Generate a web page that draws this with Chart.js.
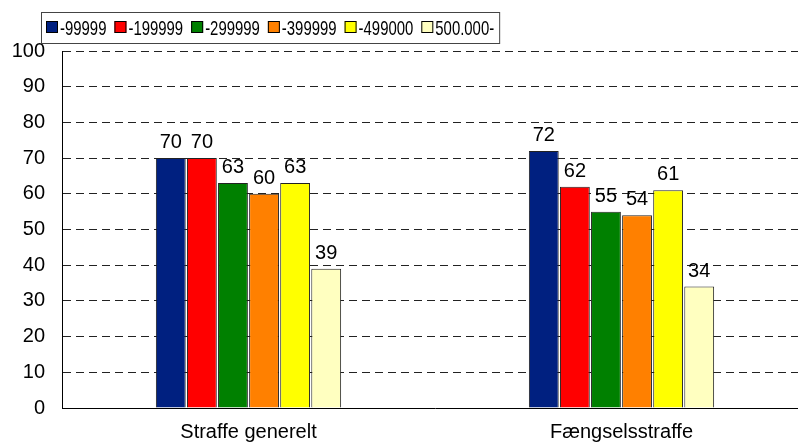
<!DOCTYPE html>
<html>
<head>
<meta charset="utf-8">
<script src="https://cdn.jsdelivr.net/npm/chart.js@4/dist/chart.umd.min.js"></script>
<style>
  html, body { margin: 0; padding: 0; background: #fff; overflow: hidden; }
  #wrap { width: 798px; height: 443px; overflow: hidden; position: relative; }
  #box { width: 808px; height: 443px; position: absolute; left: 0; top: 0; }
</style>
</head>
<body>
<div id="wrap"><div id="box"><canvas id="chart"></canvas></div></div>
<script>
const categories = ['Straffe generelt', 'Fængselsstraffe'];
const seriesNames = ['-99999', '-199999', '-299999', '-399999', '-499000', '500.000-'];
const seriesValues = [
  [70, 72],
  [70, 62],
  [63, 55],
  [60, 54],
  [63, 61],
  [39, 34]
];
const seriesColors = ['#002080', '#ff0000', '#008000', '#ff8000', '#ffff00', '#ffffc0'];
const yTicks = [0, 10, 20, 30, 40, 50, 60, 70, 80, 90, 100];

const FONT = '"Liberation Sans", Arial, sans-serif';

// value labels above each bar
const valueLabels = {
  id: 'valueLabels',
  afterDatasetsDraw(chart) {
    const ctx = chart.ctx;
    ctx.save();
    ctx.font = '20px ' + FONT;
    ctx.fillStyle = '#000';
    ctx.textAlign = 'center';
    ctx.textBaseline = 'alphabetic';
    chart.data.datasets.forEach((ds, i) => {
      chart.getDatasetMeta(i).data.forEach((bar, j) => {
        ctx.fillText(ds.data[j], bar.x, bar.y - 10);
      });
    });
    ctx.restore();
  }
};

// boxed legend like the original (text is narrow in the source)
const boxLegend = {
  id: 'boxLegend',
  afterDraw(chart) {
    const ctx = chart.ctx;
    const sx = 0.71;
    ctx.save();
    ctx.font = '21px ' + FONT;
    ctx.textBaseline = 'alphabetic';
    let x = 46;
    const left = 41, top = 12;
    chart.data.datasets.forEach((ds) => {
      ctx.fillStyle = ds.backgroundColor;
      ctx.fillRect(x, 21, 12, 12);
      ctx.strokeStyle = '#000';
      ctx.lineWidth = 1;
      ctx.strokeRect(x + 0.5, 21.5, 11, 11);
      x += 14;
      const w = ctx.measureText(ds.label).width * sx;
      ctx.save();
      ctx.translate(x, 35);
      ctx.scale(sx, 1);
      ctx.fillStyle = '#000';
      ctx.fillText(ds.label, 0, 0);
      ctx.restore();
      x += w + 8;
    });
    ctx.strokeStyle = '#444';
    ctx.lineWidth = 1;
    ctx.strokeRect(left + 0.5, top + 0.5, x - 8 + 5 - left, 31);
    ctx.restore();
  }
};

new Chart(document.getElementById('chart'), {
  type: 'bar',
  data: {
    labels: categories,
    datasets: seriesNames.map((name, i) => ({
      label: name,
      data: seriesValues[i],
      backgroundColor: seriesColors[i],
      borderColor: '#222',
      borderWidth: 1,
      categoryPercentage: 0.5,
      barPercentage: 0.96
    }))
  },
  options: {
    responsive: true,
    maintainAspectRatio: false,
    animation: false,
    layout: { padding: { top: 51, right: 0, left: 0, bottom: 0 } },
    plugins: {
      legend: { display: false },
      tooltip: { enabled: false }
    },
    scales: {
      x: {
        afterFit(axis) { axis.height = 35; },
        grid: { display: false },
        border: { display: true, color: '#000', width: 1 },
        ticks: { color: '#000', font: { size: 20, family: FONT }, padding: 4 }
      },
      y: {
        min: 0,
        max: 100,
        afterFit(axis) { axis.width = 62; },
        afterBuildTicks(axis) { axis.ticks = yTicks.map(v => ({ value: v })); },
        grid: { color: '#222', drawTicks: false, tickLength: 0 },
        border: { display: true, color: '#000', width: 1, dash: [8, 5] },
        ticks: { color: '#000', font: { size: 20, family: FONT }, padding: 17 }
      }
    }
  },
  plugins: [valueLabels, boxLegend]
});
</script>
</body>
</html>
